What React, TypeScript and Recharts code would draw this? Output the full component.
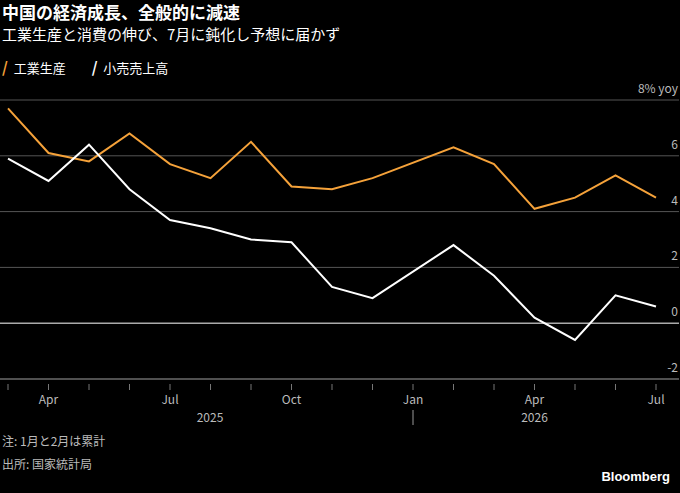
import { LineChart, Line, XAxis, YAxis, CartesianGrid, ReferenceLine } from 'recharts'

const MONTHS = ['Mar', 'Apr', 'May', 'Jun', 'Jul', 'Aug', 'Sep', 'Oct', 'Nov', 'Dec', 'Jan', 'Feb', 'Mar', 'Apr', 'May', 'Jun', 'Jul']
const INDUSTRY = [7.7, 6.1, 5.8, 6.8, 5.7, 5.2, 6.5, 4.9, 4.8, 5.2, null, 6.3, 5.7, 4.1, 4.5, 5.3, 4.5]
const RETAIL = [5.9, 5.1, 6.4, 4.8, 3.7, 3.4, 3.0, 2.9, 1.3, 0.9, null, 2.8, 1.7, 0.2, -0.6, 1.0, 0.6]
const LABELED = [1, 4, 7, 10, 13, 16]
const Y_TICKS = [-2, 0, 2, 4, 6, 8]

const data = MONTHS.map((m, i) => ({ i, m, ind: INDUSTRY[i], ret: RETAIL[i] }))
const FONT = '"Noto Sans CJK JP", "Noto Sans", sans-serif'

const XTick = (p: any) => {
  const i = p.payload.value
  return (
    <g>
      <line x1={p.x} x2={p.x} y1={p.y - 3} y2={p.y + 3} stroke="#777" />
      {LABELED.includes(i) && (
        <text x={p.x} y={p.y + 17} fill="#bbb" fontSize={12} textAnchor="middle" fontFamily={FONT}>{MONTHS[i]}</text>
      )}
      {i === 4 && <text x={p.x + 40} y={p.y + 35} fill="#bbb" fontSize={12} textAnchor="middle" fontFamily={FONT}>2025</text>}
      {i === 10 && <line x1={p.x} x2={p.x} y1={p.y + 23} y2={p.y + 38} stroke="#999" />}
      {i === 13 && <text x={p.x} y={p.y + 35} fill="#bbb" fontSize={12} textAnchor="middle" fontFamily={FONT}>2026</text>}
    </g>
  )
}

const yTick = (p: any) => (
  <text key={p.payload.value} x={678} y={p.y - 7} fill="#bbb" fontSize={12} textAnchor="end" fontFamily={FONT}>
    {p.payload.value === 8 ? '8% yoy' : p.payload.value}
  </text>
)

export default function App() {
  document.body.style.margin = '0'
  return (
    <div style={{ position: 'relative', width: 680, height: 493, background: '#000', fontFamily: FONT, color: '#fff' }}>
      <div style={{ position: 'absolute', left: 2, top: 1, fontSize: 17, fontWeight: 700, lineHeight: '22px' }}>中国の経済成長、全般的に減速</div>
      <div style={{ position: 'absolute', left: 2, top: 24, fontSize: 15, lineHeight: '20px' }}>工業生産と消費の伸び、7月に鈍化し予想に届かず</div>
      <div style={{ position: 'absolute', left: 2, top: 56, fontSize: 13, display: 'flex', gap: 26 }}>
        <span><b style={{ color: '#f5a23a', fontSize: 15 }}>/</b>&nbsp;&nbsp;工業生産</span>
        <span><b style={{ color: '#fff', fontSize: 15 }}>/</b>&nbsp;&nbsp;小売売上高</span>
      </div>
      <div style={{ position: 'absolute', top: 0, left: 0 }}>
        <LineChart width={680} height={493} data={data} margin={{ top: 100, right: 0, left: 0, bottom: 84 }}>
          <CartesianGrid vertical={false} stroke="#555" />
          <XAxis dataKey="i" type="number" domain={[0, 16]} ticks={data.map((d) => d.i)} padding={{ left: 8, right: 23 }}
            tick={<XTick />} tickLine={false} axisLine={{ stroke: '#777' }} interval={0} height={30} />
          <YAxis orientation="right" width={1} domain={[-2, 8]} ticks={Y_TICKS} tick={yTick} axisLine={false} tickLine={false} interval={0} />
          <ReferenceLine y={0} stroke="#ddd" />
          <Line dataKey="ind" stroke="#f5a23a" strokeWidth={2} dot={false} connectNulls isAnimationActive={false} />
          <Line dataKey="ret" stroke="#fff" strokeWidth={2} dot={false} connectNulls isAnimationActive={false} />
        </LineChart>
      </div>
      <div style={{ position: 'absolute', left: 2, top: 432, fontSize: 12, color: '#bbb' }}>注: 1月と2月は累計</div>
      <div style={{ position: 'absolute', left: 2, top: 455, fontSize: 12, color: '#bbb' }}>出所: 国家統計局</div>
      <div style={{ position: 'absolute', right: 10, top: 469, fontSize: 13, fontWeight: 700, fontFamily: 'Arial, "Liberation Sans", sans-serif' }}>Bloomberg</div>
    </div>
  )
}
